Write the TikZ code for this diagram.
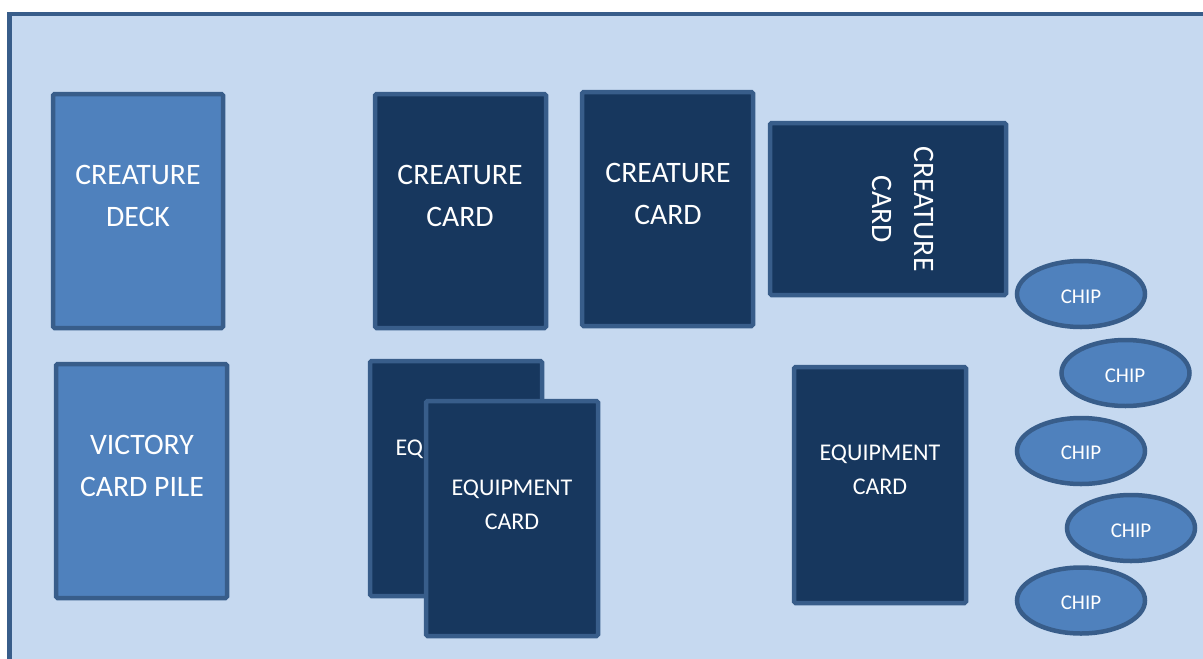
\documentclass[tikz,border=0pt]{standalone}
\usepackage{fontspec}
\setmainfont{Carlito}
\usetikzlibrary{shapes.geometric}
\definecolor{bgblue}{HTML}{C6D9F0}
\definecolor{edgeblue}{HTML}{385D8A}
\definecolor{midblue}{HTML}{4F81BD}
\definecolor{darkblue}{HTML}{17375E}
\tikzset{
  card/.style={draw=edgeblue, line width=4.5pt, rounded corners=1.5pt, inner sep=0pt},
  lightcard/.style={card, fill=midblue},
  darkcard/.style={card, fill=darkblue},
  chip/.style={ellipse, draw=edgeblue, line width=4.5pt, fill=midblue, inner sep=0pt,
    minimum width=128pt, minimum height=66pt},
  bigtxt/.style={text=white, align=center, font=\fontsize{29.7}{42}\selectfont, inner sep=0pt},
  midtxt/.style={text=white, align=center, font=\fontsize{24}{34}\selectfont, inner sep=0pt},
  chiptxt/.style={text=white, font=\fontsize{21}{22}\selectfont, inner sep=0pt},
}
\begin{document}
\begin{tikzpicture}[x=1pt, y=-1pt]
\useasboundingbox (0,0) rectangle (1203,659);
\clip (0,0) rectangle (1203,659);
\fill[white] (0,0) rectangle (1203,659);
\draw[edgeblue, fill=bgblue, line width=4.5pt] (9.5,14) rectangle (1215,675);

% creature deck and victory pile
\node[lightcard, minimum width=170pt, minimum height=234pt] (deck) at (138,211) {};
\node[bigtxt] (decktxt) at (138,196) {CREATURE\\DECK};
\node[lightcard, minimum width=171pt, minimum height=234pt] (victory) at (141.5,481) {};
\node[bigtxt] (victorytxt) at (142,466) {VICTORY\\CARD PILE};

% creature cards
\node[darkcard, minimum width=171pt, minimum height=234pt] (cc1) at (460.5,211) {};
\node[bigtxt] (cc1txt) at (460,196) {CREATURE\\CARD};
\node[darkcard, minimum width=171pt, minimum height=234pt] (cc2) at (667.5,209) {};
\node[bigtxt] (cc2txt) at (668,194) {CREATURE\\CARD};
\node[darkcard, minimum width=236pt, minimum height=172pt] (cc3) at (888,209) {};
\node[bigtxt, rotate=-90] (cc3txt) at (903,209) {CREATURE\\CARD};

% equipment cards
\node[darkcard, minimum width=172pt, minimum height=235pt] (eq1) at (456,478.5) {};
\node[midtxt] (eq1txt) at (456,464.5) {EQUIPMENT\\CARD};
\node[darkcard, minimum width=172pt, minimum height=235pt] (eq2) at (512,518.5) {};
\node[midtxt] (eq2txt) at (512,504.5) {EQUIPMENT\\CARD};
\node[darkcard, minimum width=172pt, minimum height=236pt] (eq3) at (880,485) {};
\node[midtxt] (eq3txt) at (880,470) {EQUIPMENT\\CARD};

% chips
\node[chip] (chip1) at (1081,294) {};
\node[chiptxt] (chip1txt) at (1081,297) {CHIP};
\node[chip] (chip2) at (1125.5,373) {};
\node[chiptxt] (chip2txt) at (1125,376) {CHIP};
\node[chip] (chip3) at (1081,451) {};
\node[chiptxt] (chip3txt) at (1081,453) {CHIP};
\node[chip] (chip4) at (1131,528) {};
\node[chiptxt] (chip4txt) at (1131,531) {CHIP};
\node[chip] (chip5) at (1081,600.5) {};
\node[chiptxt] (chip5txt) at (1081,603) {CHIP};
\end{tikzpicture}
\end{document}
